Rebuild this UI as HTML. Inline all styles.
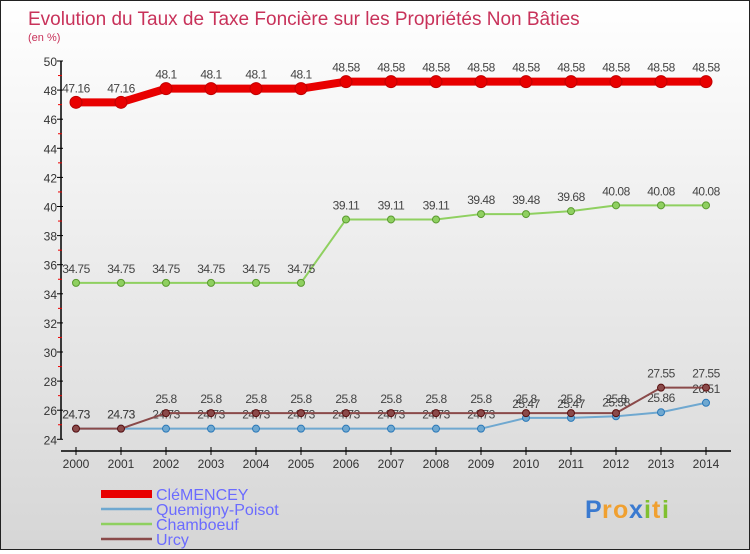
<!DOCTYPE html>
<html><head><meta charset="utf-8"><style>
body{margin:0;width:750px;height:550px;overflow:hidden;font-family:"Liberation Sans",sans-serif}
#wrap{position:absolute;left:0;top:0;width:748px;height:548px;border:1px solid #222;background:linear-gradient(#ffffff,#d6d6d6)}
</style></head><body>
<div id="wrap">
<svg id="chart" width="748" height="548"></svg>
</div>
<script>
const years=[2000,2001,2002,2003,2004,2005,2006,2007,2008,2009,2010,2011,2012,2013,2014];
const clemencey=[47.16,47.16,48.1,48.1,48.1,48.1,48.58,48.58,48.58,48.58,48.58,48.58,48.58,48.58,48.58];
const quemigny=[24.73,24.73,24.73,24.73,24.73,24.73,24.73,24.73,24.73,24.73,25.47,25.47,25.58,25.86,26.51];
const chamboeuf=[34.75,34.75,34.75,34.75,34.75,34.75,39.11,39.11,39.11,39.48,39.48,39.68,40.08,40.08,40.08];
const urcy=[24.73,24.73,25.8,25.8,25.8,25.8,25.8,25.8,25.8,25.8,25.8,25.8,25.8,27.55,27.55];
const yTicks=[24,26,28,30,32,34,36,38,40,42,44,46,48,50];
const seriesNames=["CléMENCEY","Quemigny-Poisot","Chamboeuf","Urcy"];
const NS="http://www.w3.org/2000/svg";
const svg=document.getElementById('chart');
const X=i=>75+i*45;
const Y=v=>60+(50-v)*14.55;
function el(t,a,p){const e=document.createElementNS(NS,t);for(const k in a)e.setAttribute(k,a[k]);(p||svg).appendChild(e);return e;}
function txt(x,y,s,a,p){const e=el('text',Object.assign({x:x,y:y},a),p);e.textContent=s;return e;}
const t1=txt(27,24,"Evolution du Taux de Taxe Foncière sur les Propriétés Non Bâties",{fill:"#c8325a","font-size":19});

const t2=txt(27,40,"(en %)",{fill:"#c8325a","font-size":11});

const ax=el('g',{});
el('line',{x1:60,y1:Y(50),x2:60,y2:Y(24),stroke:"#000","stroke-width":1.5},ax);
yTicks.forEach(v=>{el('line',{x1:56,y1:Y(v),x2:62,y2:Y(v),stroke:"#000"},ax);
 el('line',{x1:57,y1:Y(v+1),x2:61,y2:Y(v+1),stroke:v<50?"#e00":"none"},ax);
 txt(56,Y(v)+5,String(v),{"text-anchor":"end","font-size":12,fill:"#333"},ax);});
const xa=el('g',{});
el('line',{x1:60,y1:450,x2:730,y2:450,stroke:"#000","stroke-width":1.5},xa);
years.forEach((y,i)=>{el('line',{x1:X(i),y1:446,x2:X(i),y2:454,stroke:"#000"},xa);
 txt(X(i),467,String(y),{"text-anchor":"middle","font-size":12,fill:"#333"},xa);});
function series(data,color,w,r,name,dark){
 const g=el('g',{});
 el('polyline',{points:data.map((v,i)=>X(i)+','+Y(v)).join(' '),fill:"none",stroke:color,"stroke-width":w},g);
 data.forEach((v,i)=>{const c=el('circle',{cx:X(i),cy:Y(v),r:r,fill:color,stroke:dark,"stroke-width":1},g);
  
  txt(X(i),Y(v)-10,String(v),{"text-anchor":"middle","font-size":12,fill:"#444","letter-spacing":"-0.5"},g);});
}
series(chamboeuf,"#8fd060",2,3.5,"series-chamboeuf","#5a9a30");
series(quemigny,"#6fa8d0",2,3.5,"series-quemigny-poisot","#2a78b8");
series(urcy,"#8a4a4a",2,3.5,"series-urcy","#5a1010");
series(clemencey,"#e80000",8,6,"series-clemencey","#c00000");
const colors=["#e80000","#6fa8d0","#8fd060","#8a4a4a"],ws=[8,2.5,2.5,2.5];
seriesNames.forEach((n,i)=>{const g=el('g',{});
 const yy=493+i*15;el('line',{x1:100,y1:yy,x2:151,y2:yy,stroke:colors[i],"stroke-width":ws[i]},g);
 txt(155,yy+6,n,{"font-size":16,fill:"#6b6bff"},g);});
const lg=el('g',{});
const letters=[["P","#3a7ad0",0],["r","#f0a030",17],["o","#f0a030",28],["x","#3a7ad0",44],["i","#80c030",59],["t","#f0a030",67],["i","#80c030",77]];
letters.forEach(c=>{txt(584+c[2],517,c[0],{"font-size":25,"font-weight":"bold",fill:c[1]},lg);});
</script>
</body></html>
